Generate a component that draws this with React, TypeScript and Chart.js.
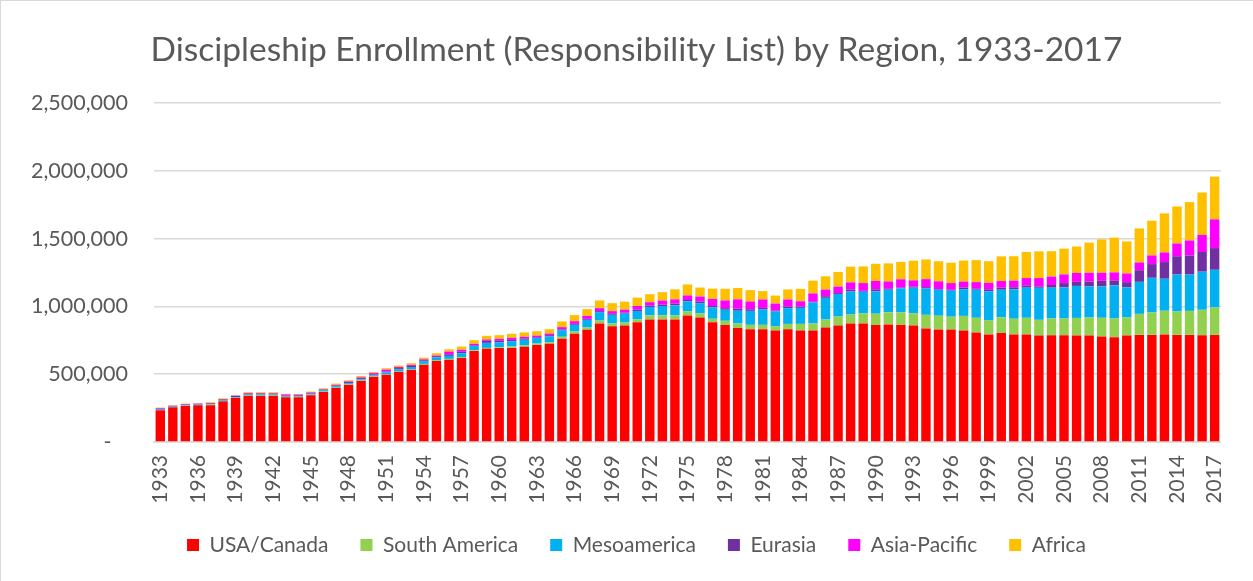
import React, { useEffect, useRef } from 'react';
import { Chart, registerables } from 'chart.js';

Chart.register(...registerables);

const TITLE = 'Discipleship Enrollment (Responsibility List) by Region, 1933-2017';

const years = [
  1933, 1934, 1935, 1936, 1937, 1938, 1939, 1940, 1941, 1942,
  1943, 1944, 1945, 1946, 1947, 1948, 1949, 1950, 1951, 1952,
  1953, 1954, 1955, 1956, 1957, 1958, 1959, 1960, 1961, 1962,
  1963, 1964, 1965, 1966, 1967, 1968, 1969, 1970, 1971, 1972,
  1973, 1974, 1975, 1976, 1977, 1978, 1979, 1980, 1981, 1982,
  1983, 1984, 1985, 1986, 1987, 1988, 1989, 1990, 1991, 1992,
  1993, 1994, 1995, 1996, 1997, 1998, 1999, 2000, 2001, 2002,
  2003, 2004, 2005, 2006, 2007, 2008, 2009, 2010, 2011, 2012,
  2013, 2014, 2015, 2016, 2017,
];

// values in thousands
const usaCanada = [
  234, 256, 266, 271, 271, 300, 325, 340, 340, 340, 330, 330, 345, 369, 399, 421, 450, 480, 495, 517,
  532, 569, 598, 606, 620, 672, 687, 694, 694, 702, 716, 724, 761, 798, 827,
  874, 854, 859, 884, 904, 904, 904, 933, 918, 884, 862, 840, 832, 832, 822, 832, 822, 822, 844, 859, 874,
  874, 862, 867, 862, 859, 837, 830, 830, 822, 808, 793, 803, 793, 793, 785, 788, 788, 785, 785, 778, 773, 785, 790, 790, 793, 790, 790, 788, 790,
];
const southAmerica = [
  2, 2, 3, 2, 5, 3, 2, 3, 3, 3, 3, 4, 4, 3, 3, 3, 3, 3, 3, 3,
  3, 7, 5, 7, 5, 5, 7, 5, 10, 10, 10, 12, 15, 17, 17,
  22, 20, 22, 20, 30, 30, 30, 30, 30, 25, 32, 34, 32, 32, 32, 39, 49, 52, 59, 66, 66,
  74, 84, 89, 94, 89, 101, 101, 94, 108, 108, 106, 116, 116, 123, 116, 123, 123, 130, 133, 138, 138, 133, 155, 165, 175, 172, 177, 187, 202,
];
const mesoamerica = [
  6, 5, 4, 4, 4, 6, 5, 7, 8, 8, 6, 6, 7, 10, 10, 10, 10, 9, 15, 17,
  18, 20, 20, 22, 30, 32, 37, 37, 39, 42, 42, 42, 49, 49, 57,
  62, 64, 66, 62, 62, 69, 74, 74, 76, 84, 81, 94, 103, 113, 108, 116, 118, 155, 160, 167, 170,
  160, 165, 167, 177, 190, 194, 192, 192, 197, 207, 212, 204, 217, 222, 236, 227, 229, 236, 229, 231, 244, 222, 236, 256, 236, 273, 268, 281, 278,
];
const eurasia = [
  3, 3, 2, 5, 5, 5, 8, 5, 5, 4, 4, 6, 6, 4, 5, 8, 8, 6, 7, 8,
  8, 7, 10, 12, 10, 5, 15, 10, 10, 10, 5, 10, 5, 7, 7,
  7, 7, 7, 10, 10, 10, 12, 10, 12, 10, 12, 15, 12, 12, 7, 12, 10, 5, 12, 7, 15,
  7, 15, 7, 5, 7, 10, 5, 7, 12, 7, 15, 15, 15, 17, 10, 20, 32, 30, 37, 42, 37, 39, 86, 101, 123, 135, 140, 145, 160,
];
const asiaPacific = [
  5, 2, 5, 2, 3, 3, 2, 6, 5, 5, 8, 4, 4, 4, 5, 5, 6, 10, 14, 8,
  8, 7, 5, 20, 15, 10, 10, 15, 15, 12, 12, 12, 17, 20, 22,
  22, 20, 22, 27, 25, 30, 32, 34, 37, 52, 57, 69, 57, 62, 52, 52, 39, 62, 49, 47, 52,
  57, 62, 54, 62, 47, 59, 57, 49, 44, 49, 47, 49, 49, 54, 62, 62, 64, 66, 64, 59, 59, 64, 57, 64, 71, 94, 111, 126, 212,
];
const africa = [
  4, 3, 3, 2, 5, 5, 3, 6, 6, 7, 4, 5, 6, 6, 9, 8, 10, 7, 10, 11,
  12, 12, 17, 17, 24, 27, 27, 27, 30, 32, 32, 32, 42, 45, 50,
  57, 59, 59, 62, 59, 62, 74, 81, 66, 76, 86, 84, 84, 62, 59, 74, 91, 94, 98, 108, 116,
  123, 126, 133, 128, 145, 145, 148, 150, 155, 162, 160, 182, 180, 192, 197, 187, 190, 195, 222, 246, 256, 236, 251, 256, 288, 273, 283, 313, 315,
];

const seriesNames = ['USA/Canada', 'South America', 'Mesoamerica', 'Eurasia', 'Asia-Pacific', 'Africa'];
const seriesColors = ['#FF0000', '#92D050', '#00B0F0', '#7030A0', '#FF00FF', '#FFC000'];
const seriesValues = [usaCanada, southAmerica, mesoamerica, eurasia, asiaPacific, africa];

const yTicks = [0, 500000, 1000000, 1500000, 2000000, 2500000];

const TEXT = '#595959';
const GRID = '#d9d9d9';
const FONT = "Lato, 'Open Sans', sans-serif";

// shift full-width title and legend so they are centred like the original
const centerShift = {
  id: 'centerShift',
  afterLayout(chart: any) {
    for (const b of [chart.titleBlock, chart.legend]) {
      if (b) {
        b.left += 19.5;
        b.right += 19.5;
      }
    }
  },
};

export default function App() {
  const ref = useRef<HTMLCanvasElement>(null);

  useEffect(() => {
    document.body.style.margin = '0';
    const canvas = ref.current;
    if (!canvas) return;
    Chart.defaults.font.family = FONT;
    const chart = new Chart(canvas, {
      type: 'bar',
      data: {
        labels: years.map(String),
        datasets: seriesValues.map((vals, i) => ({
          label: seriesNames[i],
          data: vals.map((v) => v * 1000),
          backgroundColor: seriesColors[i],
          borderWidth: 0,
          categoryPercentage: 1,
          barPercentage: 0.75,
        })),
      },
      options: {
        responsive: false,
        animation: false,
        devicePixelRatio: 1,
        layout: { padding: { left: 7, right: 27, top: 0, bottom: 15.5 } },
        plugins: {
          title: {
            display: true,
            text: TITLE,
            color: TEXT,
            font: { family: FONT, size: 33.5, weight: 'normal' },
            padding: { top: 28.9, bottom: 32.9 },
          },
          legend: {
            position: 'bottom',
            labels: {
              boxWidth: 12,
              boxHeight: 12,
              padding: 32,
              color: TEXT,
              font: { family: FONT, size: 21 },
            },
          },
          tooltip: { enabled: false },
        },
        scales: {
          x: {
            stacked: true,
            grid: { display: false, drawTicks: false },
            border: { display: true, color: GRID, width: 1.5 },
            ticks: {
              autoSkip: false,
              maxRotation: 90,
              minRotation: 90,
              padding: 13,
              color: TEXT,
              font: { family: FONT, size: 21 },
              callback: (_v: any, i: number) => (i % 3 === 0 ? String(years[i]) : ''),
            },
            afterFit: (s: any) => {
              s.height = 60.5;
            },
          },
          y: {
            stacked: true,
            min: yTicks[0],
            max: yTicks[yTicks.length - 1],
            afterBuildTicks: (s: any) => {
              s.ticks = yTicks.map((v) => ({ value: v }));
            },
            grid: { color: GRID, lineWidth: 1.5, drawTicks: false },
            border: { display: false },
            ticks: {
              padding: 26,
              color: TEXT,
              font: { family: FONT, size: 21.5 },
              callback: (v: any) => (Number(v) === 0 ? '-   ' : Number(v).toLocaleString('en-US')),
            },
            afterFit: (s: any) => {
              s.width = 146;
            },
          },
        },
      } as any,
      plugins: [centerShift],
    });
    return () => chart.destroy();
  }, []);

  return (
    <div
      style={{
        width: 1253,
        height: 581,
        boxSizing: 'border-box',
        borderTop: '1px solid #d9d9d9',
        borderLeft: '1px solid #d9d9d9',
        background: '#fff',
      }}
    >
      <canvas ref={ref} width={1252} height={580} style={{ display: 'block', width: 1252, height: 580 }} />
    </div>
  );
}
